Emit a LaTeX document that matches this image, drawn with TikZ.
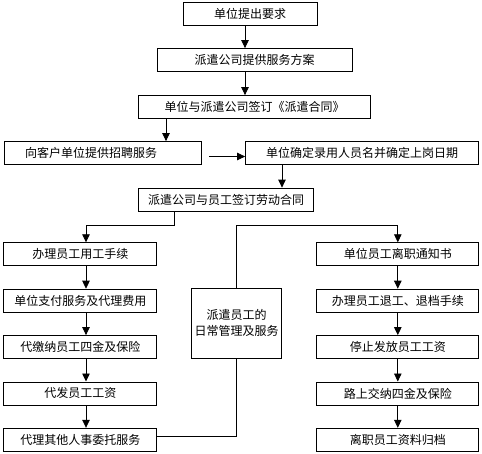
\documentclass[tikz,border=0pt]{standalone}
\usepackage{fontspec}
\newfontfamily\cjk{Noto Sans CJK SC}
\usetikzlibrary{arrows.meta}

\begin{document}
\begin{tikzpicture}[x=1pt,y=-1pt,>={Triangle[length=8pt,width=7.5pt]},
  box/.style={draw,line width=0.8pt,minimum height=23pt,inner sep=0pt,
    font=\cjk\fontsize{12}{16}\selectfont},
  every path/.style={line width=0.8pt}]
\useasboundingbox (0,0) rectangle (482,453);
% top chain
\node[box,minimum width=134pt] (req) at (250,13.5) {单位提出要求};
\node[box,minimum width=195pt] (plan) at (254.5,60) {派遣公司提供服务方案};
\node[box,minimum width=232pt] (deal) at (254.5,107) {单位与派遣公司签订《派遣合同》};
\node[box,text width=155pt,inner xsep=21pt,align=left] (recruit) at (102.5,153) {向客户单位提供招聘服务};
\node[box,minimum width=233pt] (confirm) at (362,153) {单位确定录用人员名并确定上岗日期};
\node[box,minimum width=175pt] (contract) at (226,199.5) {派遣公司与员工签订劳动合同};
% left column
\node[box,minimum width=153pt] (l1) at (80.3,254.2) {办理员工用工手续};
\node[box,minimum width=153pt] (l2) at (80.3,300.6) {单位支付服务及代理费用};
\node[box,minimum width=153pt] (l3) at (80.3,347) {代缴纳员工四金及保险};
\node[box,minimum width=153pt] (l4) at (80.3,393.4) {代发员工工资};
\node[box,minimum width=153pt] (l5) at (80.3,439.7) {代理其他人事委托服务};
% middle
\node[box,minimum width=90pt,minimum height=70pt,align=center] (mid) at (236.7,323.3) {派遣员工的\\日常管理及服务};
% right column
\node[box,minimum width=162pt] (r1) at (397.8,254.2) {单位员工离职通知书};
\node[box,minimum width=162pt] (r2) at (397.8,300.6) {办理员工退工、退档手续};
\node[box,minimum width=162pt] (r3) at (397.8,347) {停止发放员工工资};
\node[box,minimum width=162pt] (r4) at (397.8,393.4) {路上交纳四金及保险};
\node[box,minimum width=162pt] (r5) at (397.8,439.7) {离职员工资料归档};

\coordinate (sp) at (245,0);
\coordinate (dx) at (166,0);
\coordinate (cx) at (282,0);
\coordinate (kx) at (174,0);
\coordinate (lx) at (86,0);
\coordinate (top) at (0,225);
\coordinate (gap) at (209,156.5);

\draw[->] (req.south -| sp) -- (plan.north -| sp);
\draw[->] (plan.south -| sp) -- (deal.north -| sp);
\draw[->] (deal.south -| dx) -- (recruit.north -| dx);
\draw[->] (gap) -- (gap -| confirm.west);
\draw[->] (confirm.south -| cx) -- (contract.north -| cx);
\draw[->] (contract.south -| kx) -- (kx |- top) -| (l1.north -| lx);
\foreach \a/\b in {l1/l2,l2/l3,l3/l4,l4/l5}
  \draw[->] (\a.south -| lx) -- (\b.north -| lx);
\draw ([yshift=3pt]l5.east) -| (mid.south);
\draw[->] (mid.north) -- (mid.north |- top) -| (r1.north);
\foreach \a/\b in {r1/r2,r2/r3,r3/r4,r4/r5}
  \draw[->] (\a.south) -- (\b.north);
\end{tikzpicture}
\end{document}
